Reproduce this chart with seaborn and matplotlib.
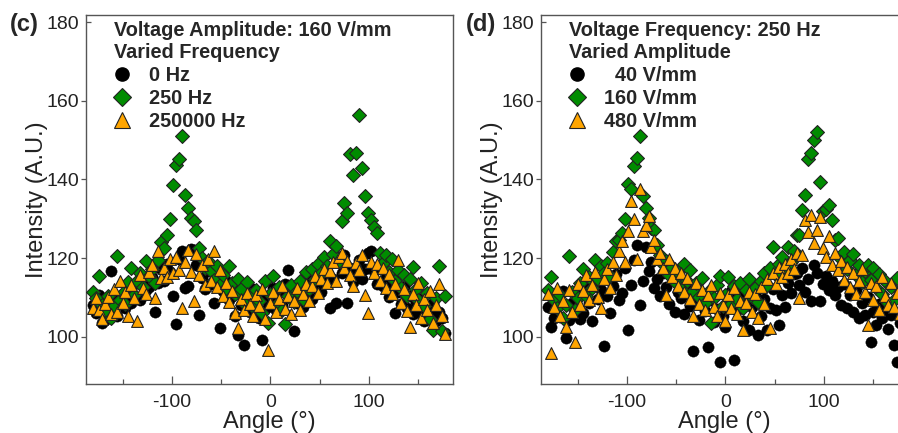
import matplotlib
matplotlib.use("Agg")
import matplotlib.pyplot as plt
from matplotlib.lines import Line2D
import matplotlib.lines as mlines
import seaborn as sns
import pandas as pd

ANGLE = [-180, -177, -174, -171, -168, -165, -162, -159, -156, -153,
         -150, -147, -144, -141, -138, -135, -132, -129, -126, -123,
         -120, -117, -114, -111, -108, -105, -102, -99, -96, -93,
         -90, -87, -84, -81, -78, -75, -72, -69, -66, -63,
         -60, -57, -54, -51, -48, -45, -42, -39, -36, -33,
         -30, -27, -24, -21, -18, -15, -12, -9, -6, -3,
         0, 3, 6, 9, 12, 15, 18, 21, 24, 27,
         30, 33, 36, 39, 42, 45, 48, 51, 54, 57,
         60, 63, 66, 69, 72, 75, 78, 81, 84, 87,
         90, 93, 96, 99, 102, 105, 108, 111, 114, 117,
         120, 123, 126, 129, 132, 135, 138, 141, 144, 147,
         150, 153, 156, 159, 162, 165, 168, 171, 174, 177]

# panel (c): 160 V/mm, varied frequency
C_0HZ = [108.2, 106.1, 110.5, 103.5, 104.3, 107.4, 116.6, 109.8, 105.2, 108.9,
         110.4, 107.2, 112.8, 108.6, 113.5, 110.1, 109.3, 114.6, 111.9, 112.7,
         115.3, 106.4, 113.8, 117.2, 114.1, 118.6, 116.4, 110.3, 103.3, 119.8,
         121.9, 112.4, 112.8, 122.3, 122.1, 118.2, 105.6, 114.9, 112.2, 116.8,
         113.4, 108.6, 115.1, 102.2, 111.7, 114.2, 109.4, 112.6, 105.2, 100.5,
         108.1, 98.0, 110.9, 106.3, 112.1, 108.4, 104.9, 99.1, 110.2, 107.6,
         109.8, 112.5, 106.9, 111.3, 108.2, 113.4, 117.0, 110.6, 101.4, 108.7,
         112.9, 107.5, 110.8, 114.1, 109.6, 112.3, 115.8, 111.4, 113.9, 116.5,
         107.3, 114.8, 108.6, 119.2, 116.1, 120.7, 108.6, 117.4, 113.9, 116.2,
         119.6, 114.7, 117.3, 121.3, 121.7, 116.8, 113.5, 118.2, 112.9, 115.1,
         110.2, 113.7, 106.1, 111.5, 108.3, 112.6, 107.2, 110.4, 105.8, 108.9,
         106.4, 109.7, 104.1, 107.8, 105.3, 108.6, 103.9, 106.2, 104.7, 101.0]
C_250HZ = [111.5, 109.8, 115.5, 108.2, 106.5, 110.4, 104.8, 107.9, 120.6, 109.3,
           111.2, 108.4, 113.9, 117.5, 110.6, 114.2, 116.1, 112.7, 119.3, 115.4,
           117.2, 113.8, 119.6, 124.1, 122.5, 126.0, 130.0, 138.6, 143.6, 145.2,
           151.0, 136.1, 132.8, 130.3, 129.5, 127.2, 122.5, 120.1, 117.4, 119.2,
           116.8, 114.5, 118.1, 113.2, 115.6, 112.4, 117.9, 113.8, 110.9, 114.6,
           112.1, 108.7, 113.9, 110.5, 107.6, 111.8, 109.2, 106.1, 114.3, 103.6,
           110.8, 115.4, 108.2, 112.6, 106.9, 103.2, 110.4, 113.1, 108.8, 111.7,
           114.2, 109.6, 116.4, 112.1, 117.3, 114.8, 118.6, 116.2, 120.4, 118.1,
           124.3, 121.1, 123.0, 119.2, 129.4, 134.0, 131.5, 146.5, 141.2, 146.8,
           156.3, 143.0, 135.7, 131.5, 129.6, 128.0, 126.4, 121.2, 118.7, 120.9,
           116.4, 119.8, 114.2, 117.1, 112.5, 115.8, 110.3, 114.7, 117.8, 112.1,
           109.4, 113.6, 107.8, 111.2, 104.6, 101.8, 109.9, 117.9, 101.5, 110.3]
C_250KHZ = [107.4, 109.8, 106.9, 104.6, 108.3, 110.2, 105.7, 112.1, 106.3, 114.1,
            108.7, 111.5, 105.4, 113.2, 109.9, 104.1, 115.6, 112.3, 110.8, 116.4,
            118.2, 109.8, 121.7, 114.9, 117.6, 115.3, 119.8, 116.2, 120.4, 117.1,
            107.3, 118.9, 122.0, 116.4, 109.0, 121.1, 115.7, 118.3, 113.2, 119.7,
            114.1, 121.7, 112.6, 116.9, 110.4, 113.8, 108.9, 111.7, 106.1, 102.2,
            109.6, 106.8, 111.2, 108.4, 105.3, 110.7, 107.9, 112.1, 104.6, 96.7,
            108.6, 111.4, 106.2, 109.7, 112.8, 107.1, 110.3, 105.8, 109.1, 112.4,
            106.9, 110.8, 113.5, 109.2, 112.9, 115.4, 111.1, 114.7, 117.2, 113.6,
            116.8, 118.9, 114.1, 120.3, 121.4, 117.5, 119.2, 115.6, 112.9, 118.7,
            117.1, 120.8, 110.7, 106.0, 119.1, 116.3, 118.4, 114.2, 117.6, 112.5,
            115.9, 110.8, 113.4, 119.6, 108.7, 112.1, 106.5, 102.6, 110.9, 108.2,
            113.8, 104.7, 109.5, 106.9, 111.7, 103.4, 108.1, 113.5, 105.2, 100.8]

# panel (d): 250 Hz, varied amplitude
D_40 = [107.6, 102.6, 104.8, 109.3, 105.1, 111.7, 99.8, 104.2, 108.6, 106.9,
        110.8, 104.5, 106.0, 112.3, 108.7, 103.9, 113.6, 109.5, 111.9, 97.7,
        110.4, 106.1, 112.8, 115.9, 109.3, 111.1, 117.4, 101.8, 113.2, 119.6,
        123.4, 108.1, 114.1, 122.8, 116.7, 119.1, 112.5, 114.8, 110.3, 116.2,
        112.7, 108.4, 114.9, 106.2, 111.5, 109.8, 105.7, 112.4, 107.9, 96.3,
        108.6, 104.3, 110.1, 106.5, 97.5, 109.4, 103.8, 107.1, 93.7, 105.2,
        102.4, 108.3, 111.6, 94.1, 106.8, 110.5, 104.1, 108.9, 101.7, 107.5,
        111.2, 100.5, 105.3, 109.7, 101.8, 107.4, 112.1, 106.9, 103.0, 110.6,
        107.6, 113.8, 111.2, 115.9, 116.3, 113.1, 117.6, 111.4, 114.7, 109.0,
        118.3, 116.2, 109.2, 113.5, 115.4, 111.8, 114.3, 110.6, 112.7, 108.1,
        113.4, 107.2, 110.5, 106.4, 111.9, 104.8, 108.7, 105.5, 110.1, 98.8,
        106.3, 103.1, 108.4, 104.7, 107.1, 101.9, 105.6, 98.0, 93.7, 103.4]
D_160 = [111.8, 115.3, 109.4, 107.2, 110.6, 104.9, 108.1, 120.6, 111.3, 106.7,
         109.8, 113.6, 117.2, 110.4, 115.1, 112.3, 119.4, 114.8, 117.9, 116.2,
         118.7, 115.4, 121.6, 124.3, 124.7, 126.4, 130.0, 138.9, 137.6, 143.3,
         145.5, 151.0, 135.9, 132.8, 130.1, 127.6, 127.2, 123.4, 120.8, 118.6,
         119.3, 115.7, 117.8, 113.9, 116.4, 112.2, 118.5, 114.1, 116.9, 111.6,
         113.8, 110.2, 114.9, 108.7, 111.4, 103.6, 109.8, 113.2, 115.4, 107.9,
         110.7, 115.1, 108.4, 112.9, 109.6, 113.7, 107.3, 111.8, 114.6, 110.2,
         112.5, 108.9, 114.3, 116.1, 113.2, 117.4, 122.9, 115.8, 118.6, 120.4,
         117.3, 122.7, 119.1, 121.9, 125.8, 126.0, 132.3, 136.1, 145.2, 146.6,
         150.0, 152.1, 139.3, 131.9, 132.5, 133.4, 129.8, 124.6, 125.1, 119.8,
         121.5, 117.2, 119.4, 121.1, 115.6, 118.3, 113.9, 116.8, 118.2, 114.5,
         117.6, 112.3, 115.9, 110.8, 114.2, 108.6, 112.7, 109.4, 115.0, 111.3]
D_480 = [110.9, 95.8, 107.6, 112.3, 105.4, 109.1, 102.6, 111.8, 106.2, 98.6,
         113.4, 108.2, 111.6, 115.8, 109.4, 113.1, 116.5, 110.2, 107.3, 114.7,
         117.3, 112.5, 119.1, 115.6, 121.8, 124.3, 118.9, 126.8, 134.4, 129.9,
         119.8, 137.6, 126.8, 128.4, 130.6, 122.9, 124.6, 119.7, 121.3, 117.4,
         110.7, 119.9, 115.2, 117.6, 112.8, 116.1, 111.3, 114.9, 109.6, 105.2,
         113.7, 108.4, 111.9, 106.8, 110.5, 113.2, 107.6, 105.4, 111.1, 108.2,
         103.9, 110.6, 107.3, 112.4, 105.8, 109.1, 101.7, 108.6, 111.5, 106.3,
         110.9, 104.7, 112.6, 108.3, 114.7, 102.2, 116.2, 113.4, 117.8, 115.1,
         118.4, 116.1, 119.7, 117.2, 121.3, 109.8, 120.8, 129.8, 126.6, 131.0,
         123.8, 127.2, 130.5, 122.6, 120.3, 125.5, 118.2, 121.4, 116.9, 119.3,
         114.5, 117.8, 112.6, 116.2, 110.9, 114.1, 117.3, 111.5, 103.1, 113.6,
         109.3, 112.8, 106.9, 115.2, 110.4, 108.1, 113.7, 107.5, 111.2, 105.8]

C_LABELS = ["0 Hz", "250 Hz", "250000 Hz"]
D_LABELS = ["  40 V/mm", "160 V/mm", "480 V/mm"]
C_TITLE = "Voltage Amplitude: 160 V/mm\nVaried Frequency"
D_TITLE = "Voltage Frequency: 250 Hz\nVaried Amplitude"
X_TICKS = [-100, 0, 100]
X_MINOR = [-150, -50, 50, 150]
Y_TICKS = [100, 120, 140, 160, 180]

sns.set_style("ticks")
plt.rcParams["font.family"] = ["Liberation Sans", "DejaVu Sans"]
plt.rcParams["axes.unicode_minus"] = False

GREEN = "#008C00"
ORANGE = "#FFA500"
EDGE = "#222222"
SPINE = "#555555"

fig = plt.figure(figsize=(8.98, 4.33), dpi=100)
W, H = 898.0, 433.0
ax_c = fig.add_axes([86 / W, (H - 384) / H, 367 / W, 369 / H])
ax_d = fig.add_axes([541 / W, (H - 384) / H, 367 / W, 369 / H])

styles = [
    dict(marker="o", color="black", s=66, edgecolor="black", linewidth=0.3),
    dict(marker="D", color=GREEN, s=50, edgecolor=EDGE, linewidth=0.8),
    dict(marker="^", color=ORANGE, s=72, edgecolor=EDGE, linewidth=0.8),
]


def draw(ax, series, labels, title):
    for vals, st in zip(series, styles):
        df = pd.DataFrame({"angle": ANGLE, "intensity": vals})
        sns.scatterplot(data=df, x="angle", y="intensity", ax=ax,
                        legend=False, zorder=3, **st)
    ax.set_xlim(-187, 185)
    ax.set_ylim(88, 181.8)
    ax.set_xticks(X_TICKS)
    ax.set_xticklabels([str(v) for v in X_TICKS])
    ax.set_xticks(X_MINOR, minor=True)
    ax.set_yticks(Y_TICKS)
    ax.set_yticklabels([str(v) for v in Y_TICKS])
    ax.tick_params(axis="x", which="major", direction="in", length=6,
                   width=0.9, colors=SPINE, labelcolor="#222222",
                   labelsize=14, pad=7)
    ax.tick_params(axis="x", which="minor", direction="in", length=3.5,
                   width=0.9, colors=SPINE)
    ax.tick_params(axis="y", which="major", direction="out", length=3.8,
                   width=0.9, colors=SPINE, labelcolor="#222222",
                   labelsize=14, pad=1)
    # the top (180) tick points inward in the original
    ax.yaxis.get_major_ticks()[-1].tick1line.set_marker(mlines.TICKRIGHT)
    for sp in ax.spines.values():
        sp.set_visible(True)
        sp.set_color(SPINE)
        sp.set_linewidth(1.0)
    ax.set_xlabel("Angle (°)", fontsize=17, color="#222222", labelpad=0)
    ax.set_ylabel("Intensity (A.U.)", fontsize=17, color="#222222",
                  labelpad=-1)
    handles = [
        Line2D([], [], ls="", marker="o", color="black", markersize=9.5),
        Line2D([], [], ls="", marker="D", color=GREEN, markeredgecolor=EDGE,
               markeredgewidth=0.8, markersize=9.0),
        Line2D([], [], ls="", marker="^", color=ORANGE, markeredgecolor=EDGE,
               markeredgewidth=0.8, markersize=11.0),
    ]
    leg = ax.legend(handles, labels, title=title, loc="upper left",
                    bbox_to_anchor=(0.075, 0.985), frameon=False,
                    prop=dict(weight="bold", size=14.3),
                    title_fontproperties=dict(weight="bold", size=14.3),
                    alignment="left", borderpad=0, borderaxespad=0,
                    handlelength=0.85, handletextpad=0.95,
                    labelspacing=0.2)
    leg.get_title().set_linespacing(1.22)
    leg.set_zorder(5)
    return leg


draw(ax_c, [C_0HZ, C_250HZ, C_250KHZ], C_LABELS, C_TITLE)
draw(ax_d, [D_40, D_160, D_480], D_LABELS, D_TITLE)

fig.text(10 / W, 1 - 25 / H, "(c)", fontsize=17, fontweight="bold",
         ha="left", va="center")
fig.text(466 / W, 1 - 25 / H, "(d)", fontsize=17, fontweight="bold",
         ha="left", va="center")

fig.savefig("out.png", dpi=100)
